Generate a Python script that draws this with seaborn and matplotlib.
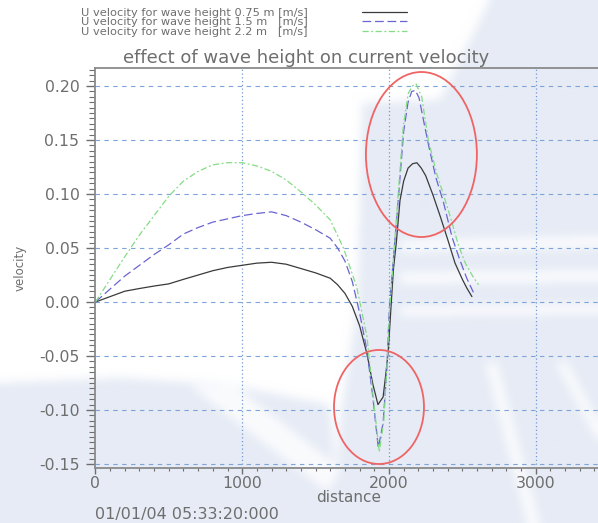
import matplotlib
matplotlib.use("Agg")
import matplotlib.pyplot as plt
import numpy as np
import pandas as pd
import seaborn as sns
from matplotlib.ticker import MultipleLocator, FormatStrFormatter
from matplotlib.patches import Ellipse
from matplotlib.path import Path
from matplotlib.colors import to_rgb

# ---- data -------------------------------------------------------------
dist_075 = [0, 100, 200, 300, 400, 500, 600, 700, 800, 900, 1000, 1100, 1200,
            1300, 1400, 1500, 1600, 1650, 1700, 1750, 1800, 1850, 1890, 1925,
            1960, 1980, 1995, 2030, 2050, 2075, 2100, 2130, 2160, 2190, 2220,
            2250, 2300, 2350, 2400, 2450, 2500, 2530, 2565]
vel_075 = [0.0, 0.005, 0.010, 0.0125, 0.0148, 0.0168, 0.021, 0.025, 0.029,
           0.032, 0.034, 0.036, 0.0368, 0.035, 0.031, 0.027, 0.022, 0.016,
           0.008, -0.004, -0.022, -0.048, -0.076, -0.095, -0.088, -0.065,
           -0.045, 0.030, 0.055, 0.094, 0.112, 0.124, 0.128, 0.129, 0.124,
           0.117, 0.099, 0.079, 0.058, 0.036, 0.021, 0.013, 0.005]

dist_15 = [0, 100, 200, 300, 400, 500, 600, 700, 800, 900, 1000, 1100, 1200,
           1300, 1400, 1500, 1600, 1650, 1700, 1750, 1800, 1850, 1890, 1927,
           1960, 1985, 2002, 2030, 2065, 2100, 2130, 2155, 2180, 2205, 2240,
           2270, 2320, 2370, 2430, 2480, 2530, 2575]
vel_15 = [0.0, 0.012, 0.024, 0.034, 0.044, 0.053, 0.063, 0.069, 0.074, 0.077,
          0.080, 0.082, 0.0835, 0.080, 0.074, 0.067, 0.059, 0.050, 0.038,
          0.019, -0.010, -0.045, -0.088, -0.135, -0.112, -0.063, -0.007,
          0.040, 0.098, 0.158, 0.185, 0.195, 0.196, 0.189, 0.165, 0.145,
          0.115, 0.093, 0.060, 0.040, 0.022, 0.009]

dist_22 = [0, 100, 200, 300, 400, 500, 600, 700, 800, 900, 1000, 1100, 1200,
           1300, 1400, 1500, 1600, 1690, 1780, 1850, 1890, 1934, 1965, 1985,
           2003, 2030, 2063, 2097, 2131, 2160, 2184, 2223, 2268, 2325, 2370,
           2420, 2470, 2520, 2570, 2610]
vel_22 = [0.0, 0.021, 0.042, 0.062, 0.080, 0.098, 0.112, 0.121, 0.127, 0.129,
          0.129, 0.126, 0.121, 0.113, 0.102, 0.090, 0.076, 0.050, 0.014,
          -0.032, -0.085, -0.139, -0.110, -0.063, -0.010, 0.039, 0.100,
          0.162, 0.193, 0.200, 0.202, 0.190, 0.150, 0.119, 0.100, 0.078,
          0.054, 0.036, 0.024, 0.016]

series_labels = ["U velocity for wave height 0.75 m [m/s]",
                 "U velocity for wave height 1.5 m   [m/s]",
                 "U velocity for wave height 2.2 m   [m/s]"]
series_colors = ["#3a3a3a", "#6a64d2", "#84dc84"]
series_dashes = ["", (7, 3), (5, 2, 1.5, 2)]

title_text = "effect of wave height on current velocity"
x_label = "distance"
y_label = "velocity"
stamp_text = "01/01/04 05:33:20:000"

df = pd.concat([
    pd.DataFrame({"distance": d, "velocity": v, "series": lab})
    for d, v, lab in zip([dist_075, dist_15, dist_22],
                         [vel_075, vel_15, vel_22], series_labels)
], ignore_index=True)

# ---- style ------------------------------------------------------------
sns.set_theme(style="ticks")
plt.rcParams["font.family"] = ["DejaVu Sans"]
plt.rcParams["axes.unicode_minus"] = False

W, H = 598, 523
fig = plt.figure(figsize=(W / 100, H / 100), dpi=100, facecolor="white")

# ---- soft page watermark behind the chart -------------------------------
tint_shapes = [
    [(490, 0), (598, 0), (598, 523), (335, 523), (340, 420), (358, 300),
     (362, 103), (440, 100), (470, 40)],
    [(0, 383), (120, 378), (230, 385), (330, 405), (340, 523), (0, 523)],
]
light_shapes = [
    [(190, 386), (235, 386), (340, 468), (328, 492)],
    [(485, 362), (497, 362), (540, 523), (527, 523)],
    [(555, 362), (567, 362), (598, 420), (598, 442)],
    [(400, 240), (598, 236), (598, 248), (400, 252)],
    [(400, 272), (598, 270), (598, 282), (400, 284)],
    [(400, 306), (598, 304), (598, 314), (400, 316)],
]
yy, xx = np.mgrid[0:H, 0:W]
grid_pts = np.column_stack([xx.ravel() + 0.5, yy.ravel() + 0.5])
mask = np.zeros((H, W))
for poly in tint_shapes:
    mask += Path(poly).contains_points(grid_pts).reshape(H, W)
for poly in light_shapes:
    mask -= 0.8 * Path(poly).contains_points(grid_pts).reshape(H, W)
mask = np.clip(mask, 0, 1)


def box_blur(a, r, axis):
    pad = [(0, 0), (0, 0)]
    pad[axis] = (r + 1, r)
    c = np.cumsum(np.pad(a, pad, mode="edge"), axis=axis)
    n = a.shape[axis]
    hi = np.take(c, np.arange(2 * r + 1, 2 * r + 1 + n), axis=axis)
    lo = np.take(c, np.arange(0, n), axis=axis)
    return (hi - lo) / (2 * r + 1)


for _ in range(2):
    mask = box_blur(box_blur(mask, 5, 0), 5, 1)

tint_rgb = np.array(to_rgb("#e6ebf5"))
img = 1 - mask[..., None] * (1 - tint_rgb)
fig.figimage(img, 0, 0, origin="upper", zorder=-10, resize=False)

# ---- axes ---------------------------------------------------------------
x0_px, x1_px, ytop_px, ybot_px = 95.4, 598, 68, 468
ax = fig.add_axes([x0_px / W, 1 - ybot_px / H, (x1_px - x0_px) / W,
                   (ybot_px - ytop_px) / H])
ax.set_facecolor("none")

sns.lineplot(data=df, x="distance", y="velocity", hue="series",
             style="series", hue_order=series_labels, style_order=series_labels,
             palette=dict(zip(series_labels, series_colors)),
             dashes=dict(zip(series_labels, series_dashes)),
             linewidth=0.9, estimator=None, sort=False, legend=False, ax=ax)

ax.set_xlim(0, 3424)
ax.set_ylim(-0.1537, 0.2167)

ax.xaxis.set_major_locator(MultipleLocator(1000))
ax.xaxis.set_minor_locator(MultipleLocator(100))
ax.yaxis.set_major_locator(MultipleLocator(0.05))
ax.yaxis.set_minor_locator(MultipleLocator(0.005))
ax.yaxis.set_major_formatter(FormatStrFormatter("%.2f"))

grey = "#6e6e6e"
ax.tick_params(axis="x", which="major", direction="out", length=4.5,
               width=1.0, color=grey, labelcolor=grey, labelsize=11.3, pad=1.5)
ax.tick_params(axis="x", which="minor", direction="out", length=2.5,
               width=0.8, color=grey)
ax.tick_params(axis="y", which="major", direction="out", length=6.5,
               width=1.0, color=grey, labelcolor=grey, labelsize=11.3, pad=5)
ax.tick_params(axis="y", which="minor", direction="out", length=4.0,
               width=0.8, color=grey)

for side in ["left", "bottom", "top"]:
    ax.spines[side].set_color("#8a8a8a")
    ax.spines[side].set_linewidth(1.3)
ax.spines["right"].set_visible(False)

ax.grid(False)
for yv in np.arange(-0.15, 0.2001, 0.05):
    ax.axhline(yv, color="#7ea4d8", lw=0.8, ls=(0, (4, 4)), zorder=0.5)
for xv in [1000, 2000, 3000]:
    ax.axvline(xv, color="#6f9bd6", lw=0.9, ls=(0, (1, 2)), zorder=0.5)

ax.set_xlabel(x_label, color=grey, fontsize=11)
ax.xaxis.set_label_coords(0.5046, -0.055)
ax.set_ylabel(y_label, color=grey, fontsize=8.5, labelpad=9)

# highlighted regions
ax.add_patch(Ellipse((2221, 0.1366), 756, 0.1528, fill=False,
                     edgecolor="#ef6464", lw=1.3, clip_on=False, zorder=5))
ax.add_patch(Ellipse((1932, -0.0972), 613, 0.1056, fill=False,
                     edgecolor="#ef6464", lw=1.3, clip_on=False, zorder=5))

fig.text(306 / W, 1 - 58 / H, title_text, ha="center", va="center",
         color=grey, fontsize=13)
fig.text(95 / W, 1 - 514 / H, stamp_text, ha="left", va="center",
         color=grey, fontsize=11.5)

leg = ax.legend(ax.get_lines()[:3], series_labels, loc="upper left",
                bbox_to_anchor=(81 / W, 1 - 8 / H),
                bbox_transform=fig.transFigure, frameon=False,
                markerfirst=False, fontsize=8.2, labelspacing=-0.05,
                handlelength=3.95, handletextpad=4.8, borderpad=0,
                borderaxespad=0)
for t in leg.get_texts():
    t.set_color(grey)

fig.savefig("out.png", dpi=100, facecolor="white")
